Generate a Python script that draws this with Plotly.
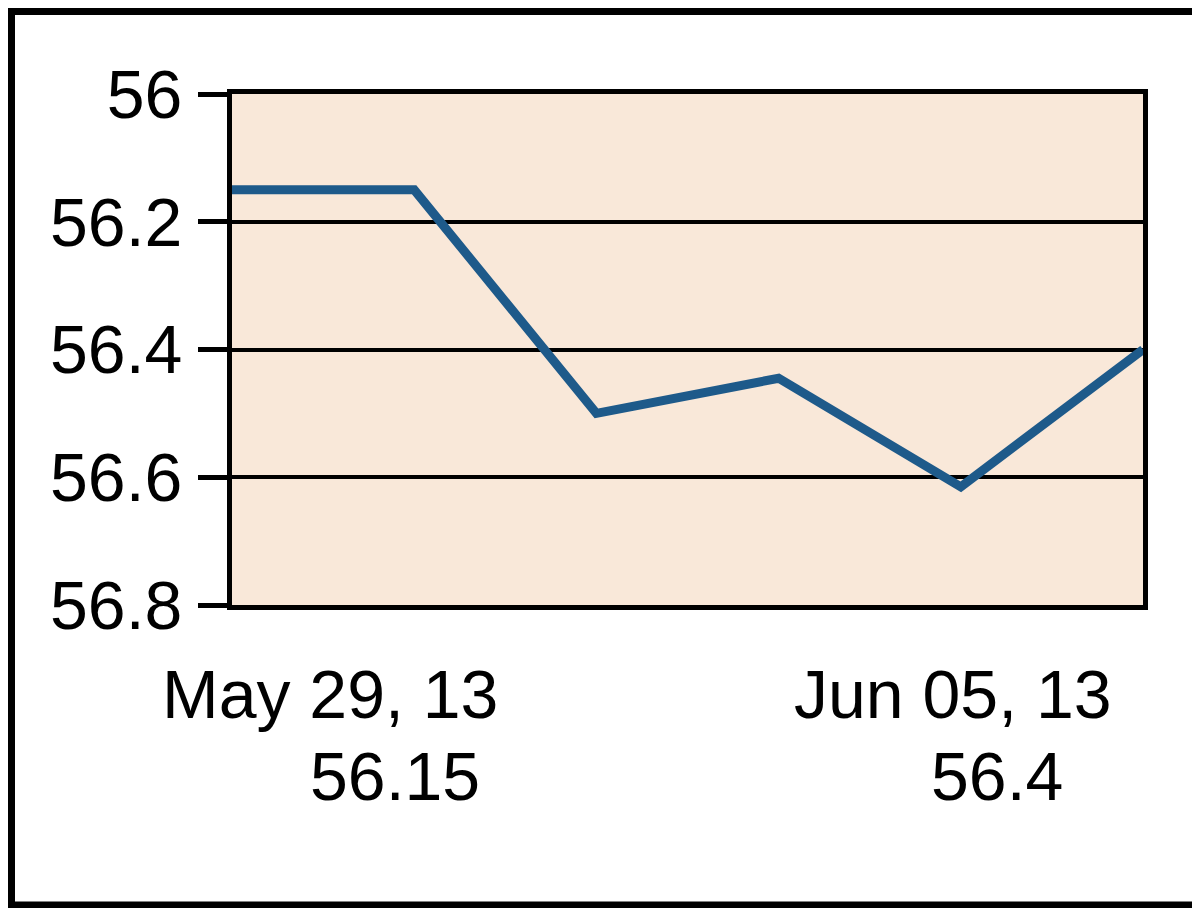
import plotly.graph_objects as go

dates = ["May 29, 13", "May 30, 13", "May 31, 13", "Jun 03, 13", "Jun 04, 13", "Jun 05, 13"]
values = [56.15, 56.15, 56.50, 56.445, 56.615, 56.40]
tick_vals = [56.0, 56.2, 56.4, 56.6, 56.8]
tick_text = ["56", "56.2", "56.4", "56.6", "56.8"]
first_label = [dates[0], "56.15"]
last_label = [dates[-1], "56.4"]

# page body has an 8px margin; work in screen coordinates and shift
OFF = 8
W, H = 1200 - OFF, 908 - OFF
L, R, T, B = 232 - OFF, 1143 - OFF, 94 - OFF, 605 - OFF
pw, ph = R - L, B - T

def px(sx):
    return (sx - OFF - L) / pw

def py(sy):
    return (B - (sy - OFF)) / ph

FONT = "Liberation Sans, Arial, sans-serif"

fig = go.Figure()
fig.add_trace(go.Scatter(
    x=list(range(len(dates))), y=values, mode="lines",
    line=dict(color="#1E5A8A", width=9), hoverinfo="skip",
))

annots = []
for txt, cx, cy in [(first_label[0], 330, 694), (first_label[1], 395, 776),
                    (last_label[0], 953, 694), (last_label[1], 997, 776)]:
    annots.append(dict(text=txt, xref="paper", yref="paper", x=px(cx), y=py(cy),
                       xanchor="center", yanchor="middle", showarrow=False,
                       font=dict(family=FONT, size=68, color="#000000")))

fig.update_layout(
    width=W, height=H,
    margin=dict(l=L, r=W - R, t=T, b=H - B, pad=0),
    paper_bgcolor="#FFFFFF", plot_bgcolor="#F9E8D9",
    showlegend=False,
    annotations=annots,
    shapes=[dict(type="rect", xref="paper", yref="paper",
                 x0=px(OFF + 3.5), x1=px(1198.5), y0=py(905), y1=py(OFF + 3.5),
                 line=dict(color="#000000", width=7), fillcolor="rgba(0,0,0,0)", layer="below")],
    xaxis=dict(range=[0, len(dates) - 1], showgrid=False, zeroline=False,
               showticklabels=False, ticks="", showline=True, mirror=True,
               linecolor="#000000", linewidth=5),
    yaxis=dict(range=[56.8, 56.0], tickvals=tick_vals, ticktext=tick_text,
               showgrid=True, gridcolor="#000000", gridwidth=4, zeroline=False,
               ticks="outside", ticklen=29, tickwidth=5, tickcolor="#000000",
               ticklabelstandoff=2,
               showline=True, mirror=True, linecolor="#000000", linewidth=5,
               tickfont=dict(family=FONT, size=68, color="#000000")),
)

fig.write_html("out.html")
